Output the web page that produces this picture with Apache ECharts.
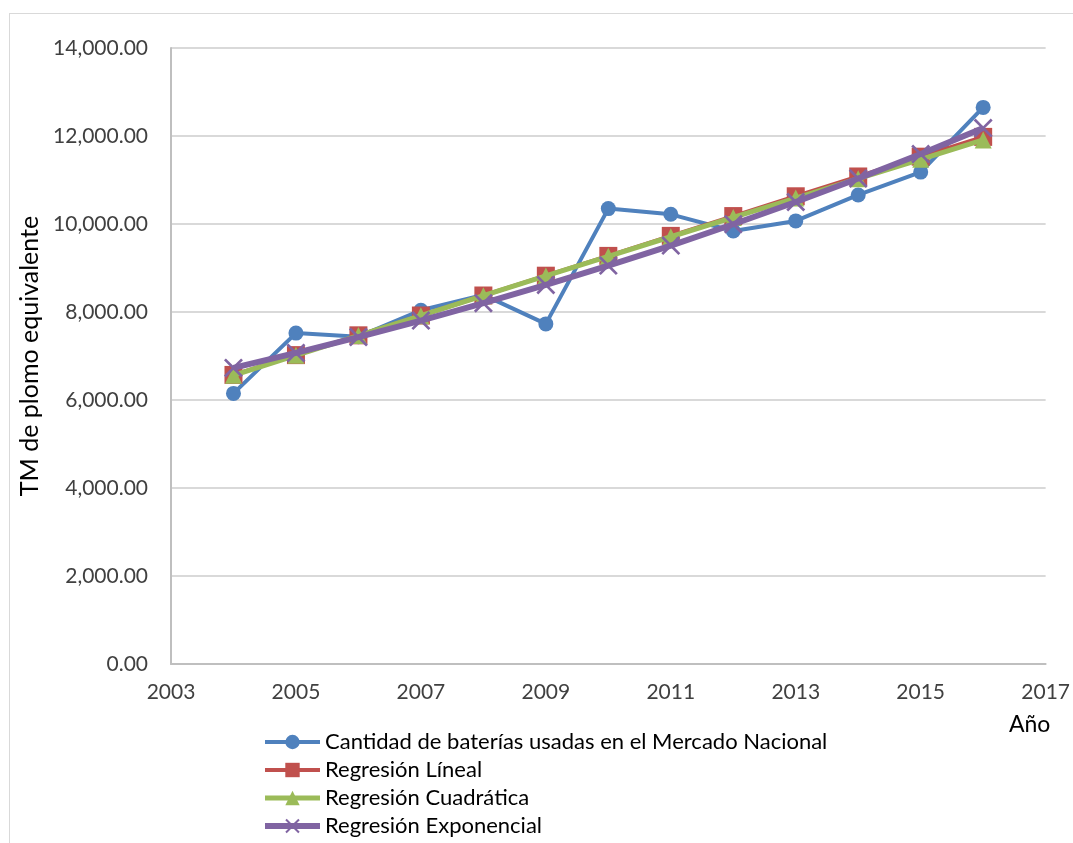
<!DOCTYPE html>
<html>
<head>
<meta charset="utf-8">
<script src="https://cdn.jsdelivr.net/npm/echarts@6/dist/echarts.min.js"></script>
<style>
html,body{margin:0;padding:0;background:#fff;}
#frame{position:absolute;left:9px;top:13px;width:1100px;height:900px;border:1px solid #d9d9d9;box-sizing:border-box;}
#chart{position:absolute;left:0;top:0;width:1073px;height:843px;}
</style>
</head>
<body>
<div id="frame"></div>
<div id="chart"></div>
<script>
const years = [2004,2005,2006,2007,2008,2009,2010,2011,2012,2013,2014,2015,2016];
const cantidad = [6150,7520,7440,8040,8390,7730,10350,10220,9840,10070,10660,11180,12650];
const lineal = [6570,7020,7470,7920,8375,8825,9275,9730,10180,10630,11080,11530,11980];
const cuadratica = [6560,7015,7465,7915,8370,8820,9265,9710,10150,10590,11030,11470,11910];
const exponencial = [6730,7070,7430,7805,8200,8615,9055,9510,9995,10500,11035,11590,12180];
const seriesNames = ['Cantidad de baterías usadas en el Mercado Nacional','Regresión Líneal','Regresión Cuadrática','Regresión Exponencial'];

const font = "Lato, 'Open Sans', sans-serif";
const textColor = '#404040';
const pair = arr => years.map((y,i)=>[y,arr[i]]);
const crossPath = 'path://M0,1L1,0L5,4L9,0L10,1L6,5L10,9L9,10L5,6L1,10L0,9L4,5Z';

const chart = echarts.init(document.getElementById('chart'));
chart.setOption({
  animation:false,
  backgroundColor:'transparent',
  textStyle:{fontFamily:font},
  grid:{left:171,right:27,top:48,bottom:179,containLabel:false},
  xAxis:{
    type:'value',min:2003,max:2017,interval:2,
    axisLine:{show:true,lineStyle:{color:'#bfbfbf',width:2}},
    axisTick:{show:false},
    splitLine:{show:false},
    axisLabel:{color:textColor,fontSize:21,fontFamily:font,margin:18,formatter:v=>String(v)}
  },
  yAxis:{
    type:'value',min:0,max:14000,interval:2000,
    name:'TM de plomo equivalente',nameLocation:'middle',nameGap:128,nameRotate:90,
    nameTextStyle:{color:'#000',fontSize:25,fontFamily:font},
    axisLine:{show:true,lineStyle:{color:'#bfbfbf',width:2}},
    axisTick:{show:false},
    splitLine:{show:true,lineStyle:{color:'#d9d9d9',width:2}},
    axisLabel:{color:textColor,fontSize:21,fontFamily:font,margin:23,
      formatter:v=>v.toLocaleString('en-US',{minimumFractionDigits:2,maximumFractionDigits:2})}
  },
  legend:{
    orient:'vertical',left:262,top:730,padding:0,itemWidth:55,itemHeight:18,itemGap:4,
    lineStyle:{width:'inherit'},
    textStyle:{color:'#000',fontSize:22,lineHeight:24,fontFamily:font},
    data:seriesNames
  },
  graphic:[{type:'text',left:1009,top:713,style:{text:'Año',fontSize:23,fontFamily:font,fill:'#000'}}],
  series:[
    {name:seriesNames[0],type:'line',data:pair(cantidad),symbol:'circle',symbolSize:15,
     lineStyle:{color:'#4F81BD',width:4},itemStyle:{color:'#4F81BD'},z:2},
    {name:seriesNames[1],type:'line',data:pair(lineal),symbol:'rect',symbolSize:18,
     lineStyle:{color:'#C0504D',width:4},itemStyle:{color:'#C0504D'},z:3},
    {name:seriesNames[2],type:'line',data:pair(cuadratica),symbol:'triangle',symbolSize:17,
     lineStyle:{color:'#9BBB59',width:5},itemStyle:{color:'#9BBB59'},z:4},
    {name:seriesNames[3],type:'line',data:pair(exponencial),symbol:crossPath,symbolSize:19,
     lineStyle:{color:'#8064A2',width:6},itemStyle:{color:'#8064A2'},z:5}
  ]
});
</script>
</body>
</html>
